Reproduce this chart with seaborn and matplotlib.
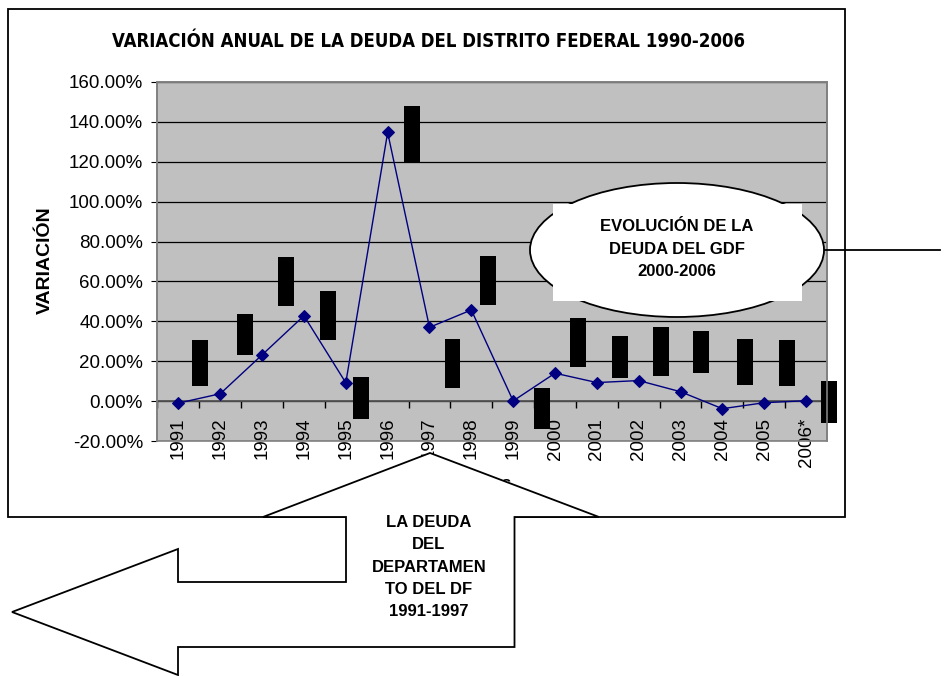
import numpy as np
import pandas as pd
import matplotlib
matplotlib.use("Agg")
import matplotlib.pyplot as plt
import matplotlib.transforms as mtransforms
from matplotlib.patches import Polygon, Ellipse, Rectangle
from matplotlib.lines import Line2D
from matplotlib.ticker import FixedLocator, FuncFormatter
from matplotlib import font_manager
from matplotlib.font_manager import FontProperties
import seaborn as sns

# ---------------- data ----------------
years = ["1991", "1992", "1993", "1994", "1995", "1996", "1997", "1998",
         "1999", "2000", "2001", "2002", "2003", "2004", "2005", "2006*"]
variacion = [-1.0, 3.7, 23.2, 42.8, 9.2, 134.7, 37.0, 45.7,
             0.1, 14.0, 9.3, 10.3, 4.7, -3.8, -0.8, 0.2]

title = "VARIACIÓN ANUAL DE LA DEUDA DEL DISTRITO FEDERAL 1990-2006"
ylabel = "VARIACIÓN"
xlabel = "Años"
ellipse_text = "EVOLUCIÓN DE LA\nDEUDA DEL GDF\n2000-2006"
arrow_text = "LA DEUDA\nDEL\nDEPARTAMEN\nTO DEL DF\n1991-1997"
yticks = [-20, 0, 20, 40, 60, 80, 100, 120, 140, 160]

# data-label placement (layout only): horizontal shift in categories, vertical centre in %
label_dx = [0.51, 0.58, 0.58, 0.58, 0.37, 0.58, 0.55, 0.40,
            0.68, 0.55, 0.55, 0.54, 0.50, 0.53, 0.54, 0.54]
label_y = [19, 33.5, 59.75, 42.75, 1.5, 134, 19, 60.25,
           -3.75, 29.5, 22, 24.75, 24.5, 19.75, 19, -0.5]

df = pd.DataFrame({"Año": years, "Variación": variacion})

# ---------------- fonts ----------------
ttf = font_manager.fontManager.ttflist
names = {f.name for f in ttf}
base = "Liberation Sans" if "Liberation Sans" in names else "DejaVu Sans"
plt.rcParams["font.family"] = [base, "DejaVu Sans"]


def is_bold(f):
    w = f.weight
    return (isinstance(w, int) and w >= 600) or (isinstance(w, str) and "bold" in w.lower())


title_fp = None
for key in ("Liberation Sans Narrow", "Condensed"):
    for f in ttf:
        label = f.name + " " + f.fname
        if key in label and is_bold(f) and "Oblique" not in f.fname and "Italic" not in f.fname:
            title_fp = FontProperties(fname=f.fname)
            break
    if title_fp is not None:
        break
if title_fp is None:
    title_fp = FontProperties(family=base, weight="bold")

W, H = 945, 676
fig = plt.figure(figsize=(W / 100, H / 100), dpi=100)
fig.patch.set_facecolor("white")
# pixel coordinates (top-left origin) -> figure
px = mtransforms.Affine2D().scale(1 / W, -1 / H).translate(0, 1) + fig.transFigure

ax = fig.add_axes([157.5 / W, (H - 441) / H, (827 - 157.5) / W, (441 - 82) / H])
ax.set_facecolor("#C0C0C0")
ax.set_axisbelow(True)

sns.lineplot(data=df, x="Año", y="Variación", sort=False, ax=ax,
             color="#000080", linewidth=1.0, marker="D", markersize=5.8,
             markeredgecolor="#000080", markerfacecolor="#000080", zorder=4)

ax.set_xlim(-0.5, len(years) - 0.5)
ax.set_ylim(-20, 160)
ax.yaxis.set_major_locator(FixedLocator(yticks))
ax.yaxis.set_major_formatter(FuncFormatter(lambda v, p: f"{v:.2f}%"))
ax.grid(axis="y", color="black", linewidth=0.9)
ax.grid(axis="x", visible=False)

ax.set_xticks(range(len(years)))
ax.set_xticklabels(years)
ax.set_xticks(np.arange(-0.5, len(years), 1.0), minor=True)
ax.tick_params(axis="x", which="major", length=0, pad=12, labelrotation=90,
               labelsize=13.5)
ax.tick_params(axis="x", which="minor", length=5, direction="out", color="black", width=1)
ax.tick_params(axis="y", which="major", length=4.5, direction="out", color="black",
               labelsize=13.5, pad=6)
ax.set_xlabel("")
ax.set_ylabel("")

for s in ["top", "right", "left"]:
    ax.spines[s].set_color("#808080")
    ax.spines[s].set_linewidth(1.2)
ax.spines["bottom"].set_position(("data", 0))
ax.spines["bottom"].set_color("#555555")
ax.spines["bottom"].set_linewidth(1.3)
ax.add_patch(Rectangle((0, 0), 1, 1, transform=ax.transAxes, fill=False,
                       edgecolor="#808080", linewidth=1.2, zorder=5, clip_on=False))

# data labels rendered as black boxes (black text on black fill)
for i, v in enumerate(variacion):
    ax.text(i + label_dx[i], label_y[i], f"{v:.2f}%", rotation=90,
            ha="center", va="center", fontsize=9.5, color="black",
            bbox=dict(boxstyle="square,pad=0.15", fc="black", ec="none"),
            clip_on=False, zorder=3)

# ---------------- chart frame and texts ----------------
fig.add_artist(Rectangle((7.5, 517), 845 - 7.5, 9 - 517, transform=px, fill=False,
                         edgecolor="black", linewidth=1.3, zorder=1))

t = fig.text(428, 46.7, title, transform=px, ha="center", va="baseline",
             fontproperties=title_fp, fontsize=15, zorder=3)
fig.canvas.draw()
r = fig.canvas.get_renderer()
w = t.get_window_extent(r).width
t.set_fontsize(15 * 638 / w)

fig.text(45, 260, ylabel, transform=px, rotation=90, ha="center", va="center",
         fontsize=14, fontweight="bold", zorder=3)
fig.text(490, 484, xlabel, transform=px, ha="center", va="center",
         fontsize=12.5, fontweight="bold", zorder=2)

# ellipse callout
fig.add_artist(Line2D([824, 940], [249.5, 249.5], transform=px, color="black",
                      linewidth=1.3, zorder=4))
fig.add_artist(Ellipse((677, 250), 294, 134, transform=px, facecolor="white",
                       edgecolor="black", linewidth=1.3, zorder=5))
fig.add_artist(Rectangle((553, 301), 802 - 553, 204 - 301, transform=px,
                         facecolor="white", edgecolor="none", zorder=6))
fig.text(677, 249, ellipse_text, transform=px, ha="center", va="center",
         fontsize=12, fontweight="bold", linespacing=1.6, multialignment="center",
         zorder=7)

# left-up arrow callout
arrow_pts = [(430, 453), (599, 517), (514.5, 517), (514.5, 647), (178, 647),
             (178, 675), (12, 612), (178, 549), (178, 582), (346, 582),
             (346, 517), (263, 517)]
fig.add_artist(Polygon(arrow_pts, closed=True, transform=px, facecolor="white",
                       edgecolor="black", linewidth=1.3, zorder=5))
fig.text(429, 567, arrow_text, transform=px, ha="center", va="center",
         fontsize=12, fontweight="bold", linespacing=1.6, multialignment="center",
         zorder=6)

fig.savefig("out.png", dpi=100)
